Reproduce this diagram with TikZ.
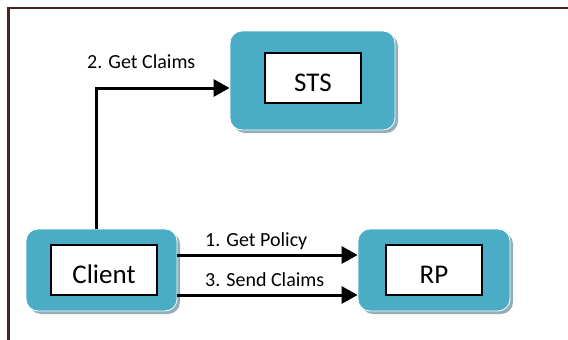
\documentclass[tikz,border=0pt]{standalone}
\usepackage{fontspec}
\setmainfont{Carlito}
\usetikzlibrary{arrows.meta,positioning,shadows}
\definecolor{boxblue}{HTML}{4BACC6}
\definecolor{boxshade}{HTML}{93AEB8}
\definecolor{framebrown}{HTML}{4A2424}
\tikzset{
  outerbox/.style={fill=boxblue,draw=white,line width=0.8pt,rounded corners=12pt,
    drop shadow={shadow xshift=3pt,shadow yshift=-3pt,fill=boxshade,opacity=1}},
  innerbox/.style={fill=white,draw=black,line width=2pt,minimum height=50pt,
    text height=27pt,text depth=0pt,font=\fontsize{27}{30}\selectfont},
  flow/.style={line width=3pt,-{Triangle[length=16pt,width=17pt]}},
  lbl/.style={anchor=base west,inner sep=0pt,font=\fontsize{20}{24}\selectfont}
}
\begin{document}
\begin{tikzpicture}[x=1pt,y=-1pt]
    \useasboundingbox (0,0) rectangle (568,340);
    \draw[framebrown,line width=2.5pt] (8.5,340) -- (8.5,8) -- (568,8);
    % boxes
    \node[outerbox,minimum width=165pt,minimum height=99pt] (stsbg) at (312.5,80.5) {};
    \node[outerbox,minimum width=151pt,minimum height=82pt] (clientbg) at (101.5,270) {};
    \node[outerbox,minimum width=152pt,minimum height=82pt] (rpbg) at (434,270) {};
    \node[innerbox,minimum width=96pt] (sts) at (313,77.5) {STS};
    \node[innerbox,minimum width=106pt] (client) at (104,270) {Client};
    \node[innerbox,minimum width=96pt] (rp) at (434,270) {RP};
    % messages
    \draw[flow] ([xshift=-5.5pt]clientbg.north) |- ([yshift=-7.5pt]stsbg.west);
    \draw[flow] ([yshift=15pt]clientbg.east) -- ([yshift=15pt]rpbg.west);
    \draw[flow] ([yshift=-25pt]clientbg.east) -- ([yshift=-25pt]rpbg.west);
    \node[lbl] (getclaims) at (87,68.3) {2. Get Claims};
    \node[lbl] (getpolicy) at (205,246) {1. Get Policy};
    \node[lbl] (sendclaims) at (205,286.5) {3. Send Claims};
\end{tikzpicture}
\end{document}
